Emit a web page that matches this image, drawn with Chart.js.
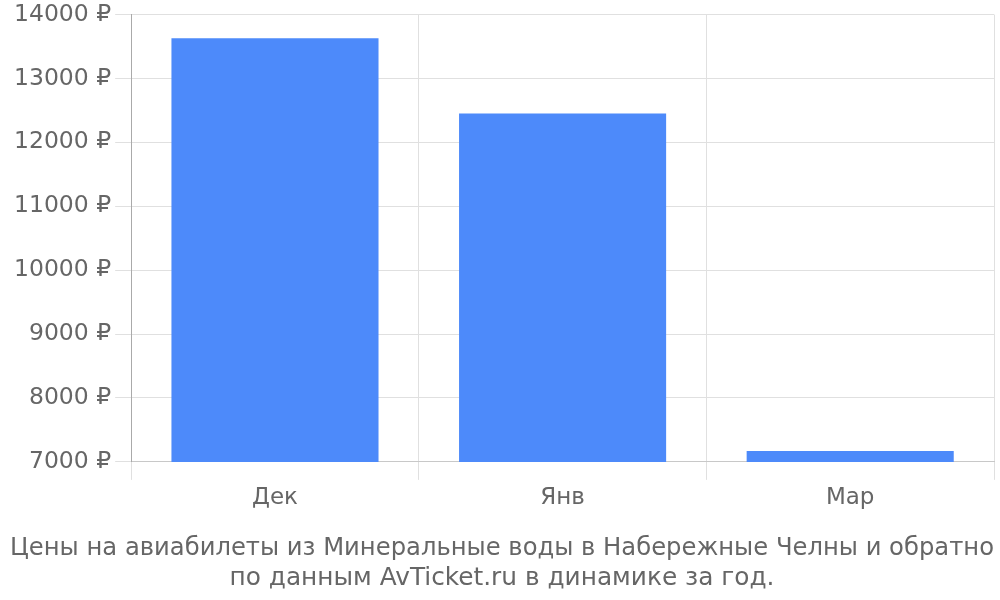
<!DOCTYPE html>
<html>
<head>
<meta charset="utf-8">
<script src="https://cdn.jsdelivr.net/npm/chart.js@4"></script>
<style>
  html, body { margin: 0; padding: 0; background: #fff; }
  #wrap { width: 1000px; height: 600px; }
</style>
</head>
<body>
<div id="wrap"><canvas id="c"></canvas></div>
<script>
// месяцы и цены (₽)
const MONTHS = ['Дек', 'Янв', 'Мар']
const PRICES = [13630, 12450, 7170]
const Y_MIN = 7000
const Y_MAX = 14000
const Y_STEP = 1000
const TITLE_LINES = [
  'Цены на авиабилеты из Минеральные воды в Набережные Челны и обратно',
  'по данным AvTicket.ru в динамике за год.',
]

Chart.defaults.font.family = '"DejaVu Sans", sans-serif'
Chart.defaults.color = '#666'

new Chart(document.getElementById('c'), {
  type: 'bar',
  data: {
    labels: MONTHS,
    datasets: [{
      data: PRICES,
      backgroundColor: '#4d8afa',
      borderWidth: 0,
    }],
  },
  options: {
    responsive: true,
    maintainAspectRatio: false,
    animation: false,
    layout: { padding: { top: 0, right: 6, left: 10, bottom: 0 } },
    plugins: {
      legend: { display: false },
      tooltip: { enabled: false },
      title: {
        display: true,
        position: 'bottom',
        text: TITLE_LINES,
        font: { size: 24.8, weight: 'normal' },
        color: '#666',
        padding: { top: 18, bottom: 7 },
      },
    },
    scales: {
      x: {
        grid: { color: '#e0e0e0', tickLength: 18 },
        border: { color: '#c8c8c8' },
        ticks: { font: { size: 23 }, padding: 4 },
      },
      y: {
        min: Y_MIN,
        max: Y_MAX,
        grid: { color: '#e0e0e0', tickLength: 16 },
        border: { color: '#aaa' },
        ticks: {
          stepSize: Y_STEP,
          font: { size: 23.5, lineHeight: 0.9 },
          padding: 4,
          callback: v => v + ' ₽',
        },
      },
    },
  },
})
</script>
</body>
</html>
